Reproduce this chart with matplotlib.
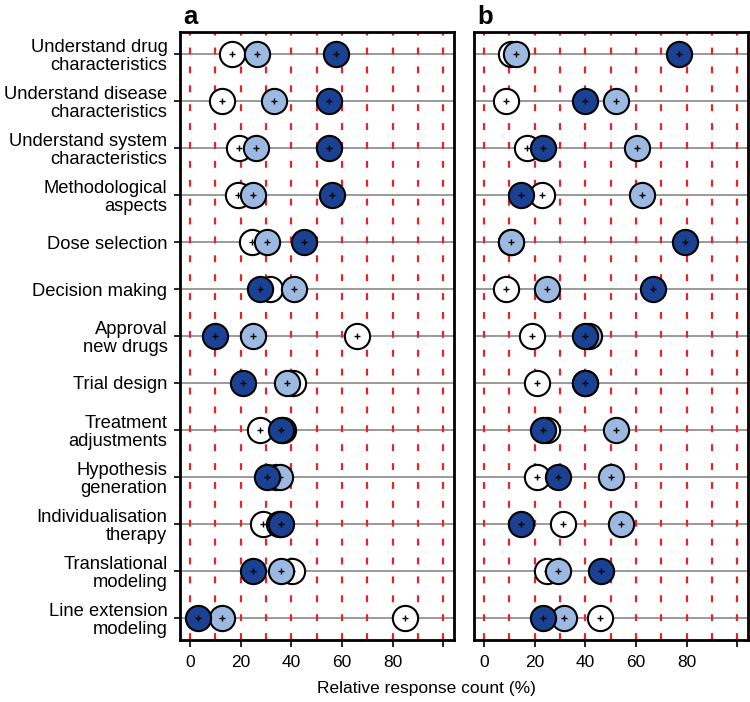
import matplotlib.pyplot as plt
import numpy as np

plt.rcParams['font.family'] = ['Liberation Sans', 'DejaVu Sans']

categories = ["Understand drug\ncharacteristics", "Understand disease\ncharacteristics",
              "Understand system\ncharacteristics", "Methodological\naspects",
              "Dose selection", "Decision making", "Approval\nnew drugs", "Trial design",
              "Treatment\nadjustments", "Hypothesis\ngeneration", "Individualisation\ntherapy",
              "Translational\nmodeling", "Line extension\nmodeling"]

# panel a
a_white = [16.4, 12.5, 19.3, 19.0, 24.3, 31.6, 65.8, 40.8, 27.4, 34.0, 28.9, 40.1, 85.0]
a_light = [26.3, 33.2, 26.0, 24.7, 30.3, 41.2, 24.7, 38.4, 36.8, 35.5, 35.0, 35.8, 12.5]
a_dark = [57.5, 55.0, 55.0, 56.2, 45.1, 27.4, 10.0, 20.7, 35.9, 30.3, 35.9, 25.0, 3.0]

# panel b
b_white = [10.5, 8.6, 16.8, 23.0, 10.5, 8.6, 19.1, 20.8, 24.7, 20.8, 31.3, 25.0, 45.8]
b_light = [12.6, 52.0, 60.5, 62.5, 10.5, 25.0, 41.5, 40.0, 52.0, 50.1, 54.2, 29.0, 31.6]
b_dark = [77.0, 39.7, 23.2, 14.6, 79.3, 66.6, 39.9, 39.9, 23.4, 29.0, 14.6, 46.0, 23.2]

xticks = [0, 20, 40, 60, 80, 100]
xticklabels = ["0", "20", "40", "60", "80", ""]

dark_col = "#1b4192"
light_col = "#9cb9e1"

fig = plt.figure(figsize=(7.5, 7.02), dpi=100)
ax_a = fig.add_axes([0.24, 0.0883, 0.3653, 0.8661])
ax_b = fig.add_axes([0.632, 0.0883, 0.3653, 0.8661])

y = np.arange(len(categories))

for ax, white, light, dark, name in [(ax_a, a_white, a_light, a_dark, "a"),
                                     (ax_b, b_white, b_light, b_dark, "b")]:
    for yy in y:
        ax.axhline(yy, color="#9a9a9a", lw=1.4, zorder=1)
    for xv in range(0, 101, 10):
        ax.axvline(xv, color="#e3242b", lw=1.6, ls=(0, (3.1, 5.4)), zorder=2)
    # white first, dark on top
    for vals, fc, z in [(white, "white", 3), (light, light_col, 4), (dark, dark_col, 5)]:
        ax.scatter(vals, y, s=330, facecolor=fc, edgecolor="black", lw=1.5, zorder=z)
        ax.scatter(vals, y, s=16, marker="+", color="black", lw=1, zorder=z)

    ax.set_xlim(-4, 104.2)
    ax.set_ylim(12.47, -0.47)
    ax.set_xticks(xticks)
    ax.set_xticklabels(xticklabels, fontsize=12.5)
    ax.tick_params(axis="x", direction="out", length=5, width=1.2, pad=6)
    for s in ax.spines.values():
        s.set_linewidth(2)
    fig.text(ax.get_position().x0 + 0.004, 1 - 24 / 702, name, fontsize=18.5,
             fontweight="bold", ha="left", va="baseline")

ax_a.set_yticks(y)
ax_a.set_yticklabels(categories, fontsize=13.2, linespacing=1.05)
ax_a.tick_params(axis="y", direction="out", length=4, width=1.2, pad=5)
ax_b.set_yticks([])

fig.text(0.569, 1 - 689 / 702, "Relative response count (%)", fontsize=12.5,
         ha="center", va="center")

fig.savefig("out.png", dpi=100)
